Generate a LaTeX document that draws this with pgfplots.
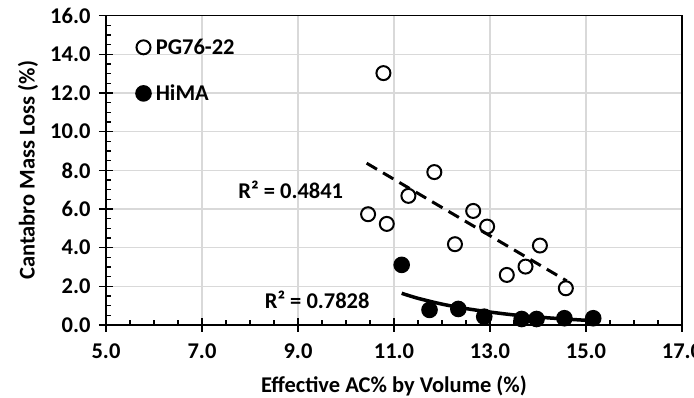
\documentclass[border=0pt]{standalone}
\usepackage{pgfplots}
\pgfplotsset{compat=1.18}
\usepackage{fontspec}
\setmainfont{Carlito}
\newcommand{\bigf}{\fontsize{22.5}{27}\selectfont\bfseries}
\begin{document}
\begin{tikzpicture}
\begin{axis}[
  scale only axis, width=576pt, height=309.3pt,
  xmin=5, xmax=17, ymin=0, ymax=16,
  xtick={5,7,...,17}, ytick={0,2,...,16},
  minor x tick num=3, minor y tick num=3,
  tick pos=left,
  tick align=inside, major tick length=7pt, minor tick length=5pt,
  extra x ticks={5,7,...,17}, extra y ticks={0,2,...,16},
  extra x tick labels={,,,,,,}, extra y tick labels={,,,,,,,,},
  extra tick style={tick align=outside, major tick length=7pt, grid=none},
  axis line style={line width=1.5pt, black},
  every tick/.style={line width=1.5pt, black},
  grid=major, major grid style={draw=black!15, line width=1.2pt},
  /pgf/number format/fixed, /pgf/number format/fixed zerofill,
  /pgf/number format/precision=1, /pgf/number format/assume math mode=true,
  tick label style={font=\bigf},
  xticklabel style={yshift=-15pt},
  yticklabel style={xshift=-12pt},
  xlabel={Effective AC\% by Volume (\%)},
  ylabel={Cantabro Mass Loss (\%)},
  label style={font=\bigf},
  xlabel style={at={(axis description cs:0.5,-0.1972)}, anchor=center},
  ylabel style={at={(axis description cs:-0.1354,0.5)}, anchor=center},
  legend style={at={(axis description cs:0,1)}, anchor=north west, xshift=30pt, yshift=-21pt,
    draw=none, fill=none, font=\bigf, inner sep=0pt, row sep=25pt, column sep=3pt, nodes={inner sep=2pt}},
  legend cell align=left,
  legend image code/.code={\draw[#1] plot coordinates {(0pt,0pt)};},
]
\addplot[only marks, mark=o, mark size=7pt, mark options={line width=2pt, black}, black]
coordinates {
(10.46,5.73) (10.85,5.23) (11.30,6.68) (11.84,7.91) (12.27,4.18) (12.65,5.90)
(12.94,5.09) (13.35,2.59) (13.74,3.02) (14.04,4.11) (14.58,1.90) (10.78,13.03)
};
\addlegendentry{PG76-22}
\addplot[only marks, mark=*, mark size=7.3pt, mark options={line width=2pt, draw=black, fill=black}, black]
coordinates {
(11.16,3.11) (11.74,0.78) (12.34,0.83) (12.88,0.43) (13.66,0.31) (13.97,0.31) (14.55,0.35) (15.15,0.35)
};
\addlegendentry{HiMA}
\addplot[forget plot, black, line width=3pt, dash pattern=on 12pt off 7pt]
coordinates {(10.43,8.37) (14.60,2.28)};
\addplot[forget plot, black, line width=3.5pt, smooth]
coordinates {(11.16,1.64) (11.5,1.38) (12.0,1.08) (12.5,0.85) (13.0,0.67) (13.5,0.52) (14.0,0.41) (14.5,0.32) (15.15,0.22)};
\node[font=\bigf] at (axis cs:8.85,6.98) {R² = 0.4841};
\node[font=\bigf] at (axis cs:9.40,1.29) {R² = 0.7828};
\end{axis}
\pgfresetboundingbox
\path[use as bounding box] ([xshift=-106pt,yshift=-73pt]current axis.south west) rectangle ([xshift=12pt,yshift=15.7pt]current axis.north east);
\end{tikzpicture}
\end{document}
